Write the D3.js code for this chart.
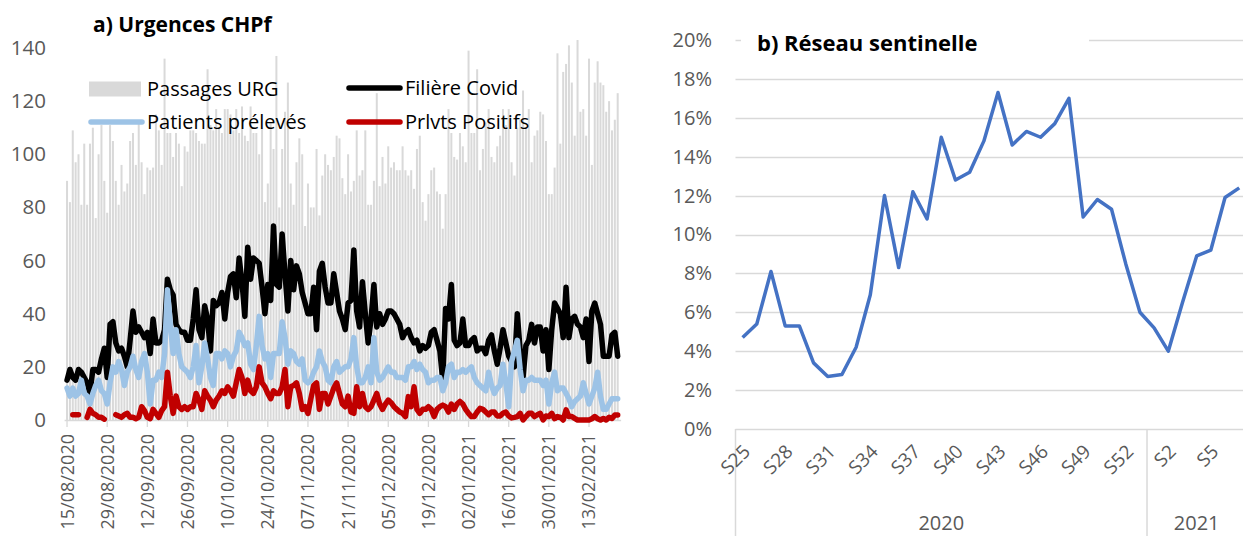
<!DOCTYPE html>
<html>
<head>
<meta charset="utf-8">
<script src="https://cdn.jsdelivr.net/npm/d3@7"></script>
<style>
  body { margin: 0; background: #fff; }
  svg { display: block; font-family: "Open Sans", sans-serif; }
</style>
</head>
<body>
<div id="chart"></div>
<script>
// ---- a) Urgences CHPf : daily values, 15/08/2020 -> 23/02/2021
const firstDay = "2020-08-15";
const lastDay = "2021-02-23";

const passagesUrg = [
  90, 82, 109, 97, 100, 81, 104, 81, 104, 110, 76, 100, 111, 90, 78, 111, 105, 90, 81, 96,
  86, 89, 105, 108, 96, 112, 97, 85, 95, 94, 95, 115, 109, 96, 136, 108, 108, 99, 108, 104,
  88, 103, 101, 109, 109, 108, 105, 104, 104, 132, 111, 109, 117, 110, 108, 117, 117, 115, 109, 117,
  108, 118, 107, 105, 118, 108, 108, 100, 110, 82, 89, 112, 102, 137, 80, 102, 116, 127, 89, 81,
  97, 106, 100, 73, 89, 80, 80, 102, 77, 92, 100, 96, 94, 99, 107, 106, 91, 85, 100, 86,
  90, 109, 92, 94, 109, 81, 81, 90, 123, 88, 99, 89, 103, 95, 97, 94, 94, 103, 94, 92,
  94, 87, 102, 107, 82, 75, 85, 94, 95, 86, 85, 72, 85, 117, 108, 99, 98, 108, 103, 97,
  139, 108, 108, 132, 94, 102, 112, 117, 99, 97, 103, 107, 117, 111, 117, 97, 92, 110, 113, 124,
  110, 117, 97, 107, 109, 116, 115, 105, 85, 85, 95, 138, 104, 131, 134, 141, 127, 107, 143, 116,
  117, 107, 136, 96, 127, 135, 127, 126, 116, 120, 109, 113, 123
];

const filiereCovid = [
  15, 19, 16, 15, 19, 18, 16, 14, 10, 19, 19, 18, 23, 27, 16, 36, 37, 29, 26, 27,
  24, 20, 30, 41, 33, 35, 33, 31, 33, 25, 38, 29, 29, 30, 34, 53, 49, 47, 36, 34,
  33, 33, 30, 30, 38, 49, 34, 31, 43, 38, 26, 45, 43, 44, 48, 38, 48, 54, 55, 46,
  61, 52, 39, 65, 53, 61, 60, 59, 50, 40, 51, 45, 73, 51, 50, 70, 55, 41, 60, 49,
  58, 55, 48, 44, 40, 40, 50, 34, 56, 59, 50, 44, 44, 55, 48, 41, 38, 34, 44, 45,
  64, 41, 35, 52, 40, 29, 38, 51, 35, 40, 36, 38, 41, 41, 40, 38, 36, 31, 33, 34,
  31, 29, 30, 26, 28, 27, 28, 33, 34, 30, 26, 15, 42, 38, 51, 30, 28, 29, 38, 28,
  28, 30, 31, 26, 27, 27, 25, 30, 32, 26, 21, 27, 34, 29, 24, 22, 20, 40, 26, 16,
  28, 30, 36, 29, 35, 35, 26, 34, 19, 34, 44, 42, 40, 31, 50, 31, 38, 39, 36, 35,
  31, 38, 22, 41, 44, 40, 36, 24, 24, 24, 32, 33, 24
];

const patientsPreleves = [
  12, 9, 12, 9, 10, 15, 10, 9, 6, 10, 13, 15, 11, 10, 6, 14, 20, 18, 22, 19,
  13, 18, 20, 24, 19, 16, 22, 25, 18, 6, 15, 15, 18, 16, 25, 49, 36, 25, 34, 25,
  20, 19, 18, 16, 20, 28, 14, 20, 29, 23, 16, 13, 25, 25, 23, 26, 25, 20, 24, 26,
  33, 31, 28, 29, 21, 19, 28, 39, 28, 23, 25, 16, 25, 25, 25, 37, 31, 21, 26, 25,
  22, 21, 23, 15, 14, 15, 18, 20, 26, 22, 20, 15, 14, 20, 22, 18, 19, 20, 20, 23,
  31, 20, 14, 14, 16, 20, 14, 31, 18, 15, 16, 18, 20, 18, 18, 16, 16, 16, 15, 20,
  20, 22, 19, 21, 19, 18, 14, 15, 15, 16, 16, 11, 14, 20, 21, 16, 18, 18, 19, 18,
  19, 20, 16, 14, 13, 12, 11, 18, 13, 10, 12, 13, 21, 14, 5, 22, 26, 30, 19, 11,
  15, 15, 16, 15, 15, 15, 13, 15, 6, 14, 18, 11, 12, 12, 10, 8, 5, 7, 8, 9,
  14, 10, 6, 9, 12, 18, 9, 4, 4, 6, 8, 8, 8
];

const prlvtsPositifs = [
  null, null, 2, 2, 2, null, null, 1, 4, 2.5, 2, 1, 1, 0.3, null, null, null, 2, 1.5, 1,
  2, 2.5, 1, 1, 0.5, 1, 5, 3.5, 1, 0.5, 4, 2.5, 1, 3.5, 5, 18, 9, 2.5, 9, 5,
  4, 5, 4, 5, 5, 10, 7.5, 4, 11, 9, 7.5, 5, 7.5, 9, 11, 10, 12.5, 11, 9, 14,
  19, 16, 10, 15, 11, 10, 12.5, 20, 14, 12.5, 10, 8, 11, 10, 10, 12.5, 19, 5, 12.5, 13,
  14, 10, 4, 5, 2.5, 8, 13, 14, 4, 10, 10, 6, 9, 12, 14, 10, 6, 5, 9, 3,
  2.5, 12.5, 5, 10, 5, 4, 5, 7.5, 10, 6, 4, 6, 7.5, 6.5, 5, 4, 3, 2.5, 1.3, 8.8,
  5, 12.5, 4, 2.5, 4, 4, 5, 4, 1.3, 4, 5, 5.6, 5, 3, 6, 4, 6, 7, 6, 4,
  2.5, 1.3, 1.3, 3, 4.4, 4, 3, 2, 3, 3, 1.5, 1.5, 2.5, 3, 1.5, 0.8, 1, 1.3, 2.5, 0,
  1.3, 2.5, 2.5, 1.3, 2, 2.5, 0, 1.5, 1.3, 2.5, 0.5, 1.3, 1, 0, 3.8, 1.3, 1.3, 0.6, 0, 0,
  0, 0, 0, 0.5, 1.3, 0.5, 0, 0.6, 0, 1, 0.6, 1.9, 1.9
];

const dateTickLabels = [
  "15/08/2020", "29/08/2020", "12/09/2020", "26/09/2020", "10/10/2020", "24/10/2020", "07/11/2020",
  "21/11/2020", "05/12/2020", "19/12/2020", "02/01/2021", "16/01/2021", "30/01/2021", "13/02/2021"
];
const urgTicks = [0, 20, 40, 60, 80, 100, 120, 140];

// ---- b) Réseau sentinelle : weekly share
const weeks2020 = ["S25", "S26", "S27", "S28", "S29", "S30", "S31", "S32", "S33", "S34", "S35", "S36", "S37", "S38", "S39",
  "S40", "S41", "S42", "S43", "S44", "S45", "S46", "S47", "S48", "S49", "S50", "S51", "S52", "S53"];
const weeks2021 = ["S1", "S2", "S3", "S4", "S5", "S6", "S7"];
const sentinelle = [
  0.047, 0.054, 0.081, 0.053, 0.053, 0.034, 0.027, 0.028, 0.042, 0.069, 0.120, 0.083, 0.122, 0.108, 0.150,
  0.128, 0.132, 0.148, 0.173, 0.146, 0.153, 0.150, 0.157, 0.170, 0.109, 0.118, 0.113, 0.085, 0.060,
  0.052, 0.040, 0.065, 0.089, 0.092, 0.119, 0.124
];
const pctTicks = [0, 0.02, 0.04, 0.06, 0.08, 0.10, 0.12, 0.14, 0.16, 0.18, 0.20];

const W = 1243, H = 536;
const textGrey = "#595959", gridGrey = "#d9d9d9";

const svg = d3.select("#chart").append("svg")
  .attr("width", W)
  .attr("height", H);

svg.append("rect").attr("width", W).attr("height", H).attr("fill", "#fff");

// ================= panel a =================
const fmtDay = d3.timeFormat("%d/%m/%Y");
const parseDay = d3.timeParse("%Y-%m-%d");
const days = d3.timeDay.range(parseDay(firstDay), d3.timeDay.offset(parseDay(lastDay), 1)).map(fmtDay);

const xA = d3.scaleBand()
  .domain(days)
  .range([65.6, 65.6 + days.length * 2.868])
  .padding(0);

const yA = d3.scaleLinear()
  .domain([0, 140])
  .range([420, 48]);

const bw = xA.bandwidth();
const gA = svg.append("g");

// bars
gA.append("g")
  .selectAll("rect")
  .data(passagesUrg)
  .enter().append("rect")
  .attr("x", (d, i) => xA(days[i]) + (bw - 2.0) / 2)
  .attr("y", d => yA(d))
  .attr("width", 2.0)
  .attr("height", d => yA(0) - yA(d))
  .attr("fill", "#d9d9d9");

// x axis
const xAxisA = gA.append("g")
  .attr("transform", "translate(0," + yA(0) + ")")
  .call(d3.axisBottom(xA).tickValues(dateTickLabels).tickSize(7).tickSizeOuter(0).tickFormat(""));
xAxisA.select(".domain").attr("stroke", gridGrey).attr("stroke-width", 1.5)
  .attr("d", "M" + (xA.range()[0] - 1) + ",0.5H" + (xA.range()[1] + 2));
xAxisA.selectAll(".tick line").attr("stroke", gridGrey).attr("stroke-width", 1.3);

gA.append("g")
  .selectAll("text")
  .data(dateTickLabels)
  .enter().append("text")
  .attr("transform", d => "translate(" + (xA(d) + bw / 2) + ",434) rotate(-90)")
  .attr("dy", "0.36em")
  .attr("text-anchor", "end")
  .attr("font-size", 18)
  .attr("fill", textGrey)
  .text(d => d);

// y axis labels
const yAxisA = gA.append("g")
  .attr("transform", "translate(46,0)")
  .call(d3.axisLeft(yA).tickValues(urgTicks).tickSize(0).tickPadding(0));
yAxisA.select(".domain").remove();
yAxisA.selectAll("text")
  .attr("font-size", 20.5)
  .attr("font-family", "'Open Sans', sans-serif")
  .attr("fill", textGrey);

// lines
const lineA = d3.line()
  .defined(d => d != null)
  .x((d, i) => xA(days[i]) + bw / 2)
  .y(d => yA(d));

const seriesA = [
  { name: "Filière Covid", values: filiereCovid, color: "#000000" },
  { name: "Patients prélevés", values: patientsPreleves, color: "#9dc3e6" },
  { name: "Prlvts Positifs", values: prlvtsPositifs, color: "#c00000" }
];

gA.selectAll(".serie")
  .data(seriesA)
  .enter().append("path")
  .attr("class", "serie")
  .attr("d", d => lineA(d.values))
  .attr("fill", "none")
  .attr("stroke", d => d.color)
  .attr("stroke-width", 5.5)
  .attr("stroke-linejoin", "round")
  .attr("stroke-linecap", "round");

// title a
gA.append("text")
  .attr("x", 93)
  .attr("y", 32)
  .attr("font-size", 21)
  .attr("font-weight", "bold")
  .attr("fill", "#000")
  .text("a) Urgences CHPf");

// legend a
const legA = gA.append("g");
const legItems = [
  { name: "Passages URG", type: "bar", color: "#d9d9d9", x: 89, y: 89 },
  { name: "Filière Covid", type: "line", color: "#000000", x: 347, y: 88 },
  { name: "Patients prélevés", type: "line", color: "#9dc3e6", x: 89, y: 122 },
  { name: "Prlvts Positifs", type: "line", color: "#c00000", x: 347, y: 122 }
];
legItems.forEach(function (it) {
  if (it.type === "bar") {
    legA.append("rect")
      .attr("x", it.x).attr("y", it.y - 7.5)
      .attr("width", 52).attr("height", 15)
      .attr("fill", it.color);
  } else {
    legA.append("line")
      .attr("x1", it.x + 2).attr("x2", it.x + 53)
      .attr("y1", it.y).attr("y2", it.y)
      .attr("stroke", it.color)
      .attr("stroke-width", 5.5)
      .attr("stroke-linecap", "round");
  }
  legA.append("text")
    .attr("x", it.x + 58)
    .attr("y", it.y)
    .attr("dy", "0.35em")
    .attr("font-size", 20)
    .attr("fill", "#000")
    .text(it.name);
});

// ================= panel b =================
const weeks = weeks2020.concat(weeks2021);

const xB = d3.scaleBand()
  .domain(weeks)
  .range([735.5, 735.5 + weeks.length * 14.19])
  .padding(0);

const yB = d3.scaleLinear()
  .domain([0, 0.2])
  .range([429, 40]);

const gB = svg.append("g");

// gridlines
gB.append("g")
  .selectAll("line")
  .data(pctTicks)
  .enter().append("line")
  .attr("x1", xB.range()[0])
  .attr("x2", xB.range()[1])
  .attr("y1", d => Math.round(yB(d)) + 0.5)
  .attr("y2", d => Math.round(yB(d)) + 0.5)
  .attr("stroke", gridGrey)
  .attr("stroke-width", 1.5);

// y labels
const yAxisB = gB.append("g")
  .attr("transform", "translate(712,0)")
  .call(d3.axisLeft(yB).tickValues(pctTicks).tickFormat(d3.format(".0%")).tickSize(0).tickPadding(0));
yAxisB.select(".domain").remove();
yAxisB.selectAll("text")
  .attr("font-size", 20)
  .attr("font-family", "'Open Sans', sans-serif")
  .attr("fill", textGrey);

// year separators
const sepX = [xB(weeks2020[0]), xB(weeks2021[0]), xB.range()[1]];
gB.append("g")
  .selectAll("line")
  .data(sepX)
  .enter().append("line")
  .attr("x1", d => d).attr("x2", d => d)
  .attr("y1", yB(0)).attr("y2", H)
  .attr("stroke", gridGrey)
  .attr("stroke-width", 1.5);

// week labels (every 3rd category)
gB.append("g")
  .selectAll("text")
  .data(weeks.filter((w, i) => i % 3 === 0))
  .enter().append("text")
  .attr("transform", d => "translate(" + (xB(d) + xB.bandwidth() / 2 + 4) + ",448) rotate(-45)")
  .attr("dy", "0.36em")
  .attr("text-anchor", "end")
  .attr("font-size", 19)
  .attr("fill", textGrey)
  .text(d => d);

// year labels
const years = [
  { label: "2020", from: weeks2020[0], to: weeks2020[weeks2020.length - 1] },
  { label: "2021", from: weeks2021[0], to: weeks2021[weeks2021.length - 1] }
];
gB.append("g")
  .selectAll("text")
  .data(years)
  .enter().append("text")
  .attr("x", d => (xB(d.from) + xB(d.to) + xB.bandwidth()) / 2)
  .attr("y", 530)
  .attr("text-anchor", "middle")
  .attr("font-size", 20)
  .attr("fill", textGrey)
  .text(d => d.label);

// line
const lineB = d3.line()
  .x((d, i) => xB(weeks[i]) + xB.bandwidth() / 2)
  .y(d => yB(d));

gB.append("path")
  .attr("d", lineB(sentinelle))
  .attr("fill", "none")
  .attr("stroke", "#4472c4")
  .attr("stroke-width", 3.5)
  .attr("stroke-linejoin", "round");

// title b with its white box
gB.append("rect")
  .attr("x", 741).attr("y", 28)
  .attr("width", 348).attr("height", 30)
  .attr("fill", "#fff");
gB.append("text")
  .attr("x", 757)
  .attr("y", 51)
  .attr("font-size", 22)
  .attr("font-weight", "bold")
  .attr("fill", "#000")
  .text("b) Réseau sentinelle");
</script>
</body>
</html>
